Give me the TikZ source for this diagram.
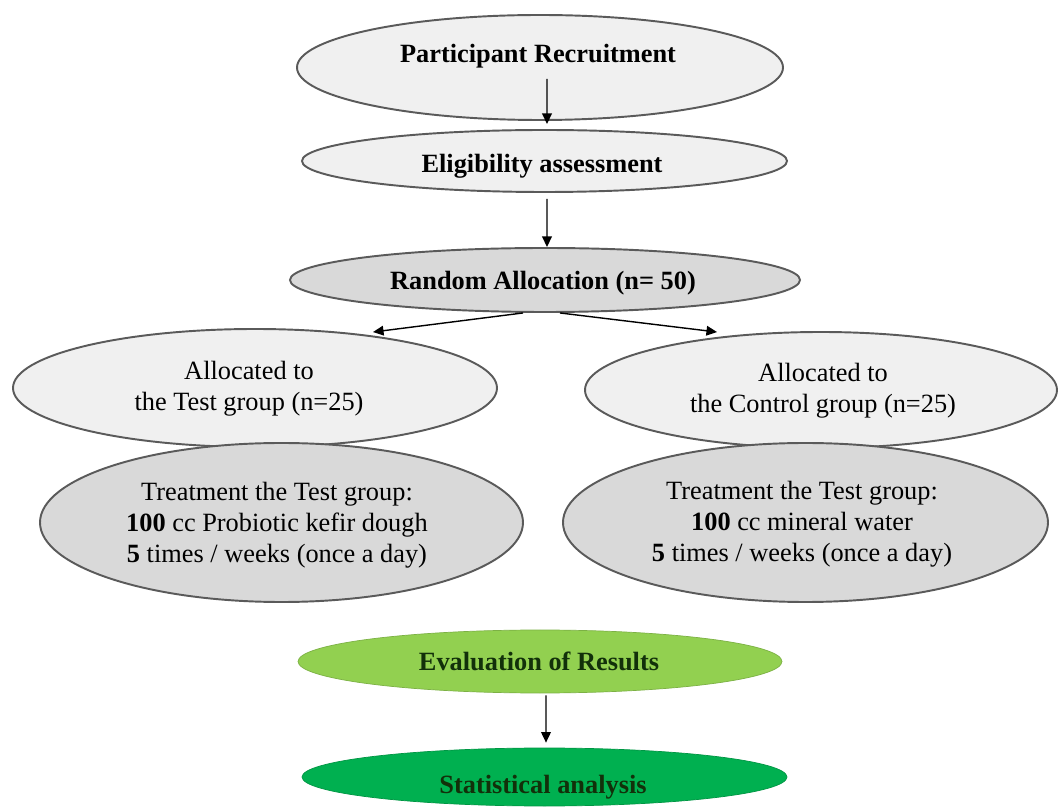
\documentclass[tikz,border=0pt]{standalone}
\usepackage{fontspec}
\setmainfont{Liberation Serif}
\usetikzlibrary{shapes.geometric,arrows.meta,calc}
\definecolor{lightfill}{HTML}{F0F0F0}
\definecolor{darkfill}{HTML}{D9D9D9}
\definecolor{edgegray}{HTML}{5A5A5A}
\definecolor{lgreen}{HTML}{92D050}
\definecolor{dgreen}{HTML}{00B050}
\definecolor{gtext}{HTML}{12300A}
\tikzset{
  ell/.style 2 args={ellipse, inner sep=0pt, minimum width={#1*0.02cm}, minimum height={#2*0.02cm}},
  lightell/.style={draw=edgegray, line width=1.1pt, fill=lightfill},
  darkell/.style={draw=edgegray, line width=1.1pt, fill=darkfill},
  greenA/.style={draw=lgreen!85!black, line width=0.4pt, fill=lgreen},
  greenB/.style={draw=dgreen!85!black, line width=0.4pt, fill=dgreen},
  lbl/.style={inner sep=0pt, font=\fontsize{15}{17.5}\selectfont, align=center},
  arr/.style={-{Triangle[length=6pt,width=5.5pt]}, line width=0.8pt, black},
}
\begin{document}
\begin{tikzpicture}[x=0.02cm,y=-0.02cm]
\useasboundingbox (0,0) rectangle (1059,807);
\fill[white] (0,0) rectangle (1059,807);
% ellipses
\node[ell={486}{105}, lightell] (pr) at (540,67.5) {};
\node[ell={485}{62}, lightell] (el) at (544.5,161) {};
\node[ell={510}{64}, darkell] (ra) at (545,280) {};
\node[ell={484}{118}, lightell] (at) at (255,388) {};
\node[ell={472}{116}, lightell] (ac) at (821,390) {};
\node[ell={483}{159}, darkell] (tt) at (281.5,522.5) {};
\node[ell={485}{159}, darkell] (tc) at (805.5,522.5) {};
\node[ell={484}{63}, greenA] (ev) at (540,661.5) {};
\node[ell={485}{58}, greenB] (st) at (544.5,777) {};
% texts
\node[lbl, anchor=base] (prt) at (538,63) {\textbf{Participant Recruitment}};
\node[lbl, anchor=base] (elt) at (542,173) {\textbf{Eligibility assessment}};
\node[lbl, anchor=base] (rat) at (543,290) {\textbf{Random Allocation (n= 50)}};
\node[lbl] (att) at (249,389) {Allocated to\\the Test group (n=25)};
\node[lbl] (act) at (823,391) {Allocated to\\the Control group (n=25)};
\node[lbl] (ttt) at (277,525) {Treatment the Test group:\\\textbf{100} cc Probiotic kefir dough\\\textbf{5} times / weeks (once a day)};
\node[lbl] (tct) at (802,524) {Treatment the Test group:\\\textbf{100} cc mineral water\\\textbf{5} times / weeks (once a day)};
\node[lbl, anchor=base, text=gtext] (evt) at (539,670) {\textbf{Evaluation of Results}};
\node[lbl, anchor=base, text=gtext] (stt) at (543,793) {\textbf{Statistical analysis}};
% arrows
\draw[arr] ($(pr.south)+(7,-42)$) -- ($(el.north)+(2.5,-5)$);
\draw[arr] ($(el.south)+(2.5,6)$) -- ($(ra.north)+(2,0)$);
\draw[arr] ($(ra.south)+(-22,0)$) -- ($(at.north)+(118,4)$);
\draw[arr] ($(ra.south)+(15,0)$) -- ($(ac.north)+(-104,1)$);
\draw[arr] ($(ev.south)+(6,2)$) -- ($(st.north)+(1.5,-5)$);
\end{tikzpicture}
\end{document}
